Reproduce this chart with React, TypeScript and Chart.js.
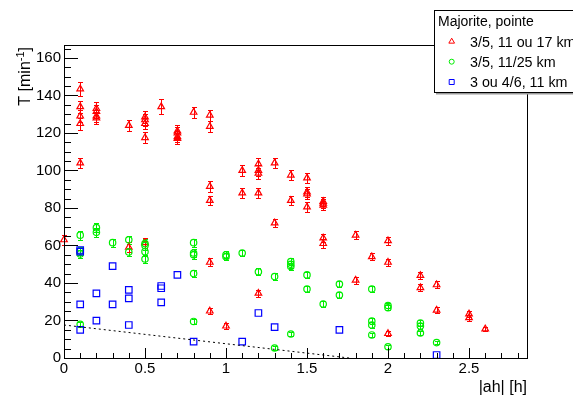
import React, { useEffect, useRef } from "react";
import { Chart, registerables } from "chart.js";

Chart.register(...registerables);

// ---- data ----
const redX = [0, 0.1, 0.1, 0.1, 0.1, 0.1, 0.2, 0.2, 0.2, 0.2, 0.4, 0.4, 0.5, 0.5, 0.5, 0.5, 0.5, 0.6, 0.7, 0.7, 0.7, 0.7, 0.8, 0.9, 0.9, 0.9, 0.9, 0.9, 0.9, 1.0, 1.1, 1.1, 1.2, 1.2, 1.2, 1.2, 1.2, 1.3, 1.3, 1.4, 1.4, 1.5, 1.5, 1.5, 1.5, 1.6, 1.6, 1.6, 1.6, 1.6, 1.8, 1.8, 1.9, 2.0, 2.0, 2.0, 2.2, 2.2, 2.3, 2.3, 2.5, 2.5, 2.6];
const redY = [63, 143.5, 134, 129, 125, 104, 133, 131.5, 129, 128, 124, 59, 128.5, 127, 125, 117.5, 61.5, 134, 121, 120, 118, 117, 131, 129.5, 123.5, 91.5, 84, 51, 25, 17, 100, 88, 103.5, 100, 98.5, 88, 34.5, 104, 72, 97.5, 84, 96, 88.5, 87.5, 80.5, 83.5, 82.5, 81.5, 64, 61, 65.5, 41.5, 54, 62.5, 51, 13, 44, 37.5, 39, 25.5, 23.5, 21.5, 15.5];
const redErr = [2.8, 3.6, 3.3, 3.2, 3.2, 2.8, 3.3, 3.3, 3.2, 3.2, 3, 2.6, 3.2, 3.2, 3.1, 3, 2.6, 4, 3, 3, 3, 3, 3, 3, 3, 2.8, 2.6, 2.2, 1.6, 1.4, 2.8, 2.6, 3, 3, 3, 2.6, 1.8, 2.8, 2.2, 2.8, 2.6, 2.8, 2.6, 2.6, 2.6, 2.4, 2.4, 2.4, 2.2, 2.2, 2, 1.8, 2, 2, 2, 1.2, 2, 1.8, 1.8, 1.6, 1.6, 1.6, 1.2];

const greenX = [0.1, 0.1, 0.1, 0.1, 0.2, 0.2, 0.3, 0.4, 0.4, 0.5, 0.5, 0.5, 0.5, 0.8, 0.8, 0.8, 0.8, 0.8, 1.0, 1.0, 1.1, 1.2, 1.3, 1.3, 1.4, 1.4, 1.4, 1.4, 1.5, 1.5, 1.6, 1.7, 1.7, 1.9, 1.9, 1.9, 1.9, 2.0, 2.0, 2.0, 2.2, 2.2, 2.2, 2.3];
const greenY = [65.5, 57, 55.5, 18, 69.5, 67, 61.5, 63, 56.5, 61, 60, 56.7, 52.8, 61.5, 56, 55, 45, 19.5, 55, 54, 56, 46, 43.4, 5.3, 51.4, 50, 48.8, 12.8, 44.3, 36.8, 28.8, 39.4, 33.6, 36.8, 19.7, 17.6, 12.3, 28, 26.8, 6, 18.7, 17, 13.3, 8.2];
const greenErr = [2.4, 2.2, 2.2, 1.4, 2.4, 2.4, 2.2, 2.2, 2.2, 2.2, 2.2, 2.2, 2.2, 2.2, 2.2, 2.2, 1.8, 1.4, 1.8, 1.8, 1.8, 1.8, 1.8, 1, 1.8, 1.8, 1.8, 1, 1.8, 1.8, 1.4, 1.8, 1.8, 1.8, 1.4, 1.4, 1, 1.4, 1.4, 1, 1.4, 1.4, 1, 1];

const blueX = [0.1, 0.1, 0.1, 0.1, 0.2, 0.2, 0.3, 0.3, 0.4, 0.4, 0.4, 0.6, 0.6, 0.6, 0.7, 0.8, 1.1, 1.2, 1.3, 1.7, 2.3];
const blueY = [57.6, 56.7, 28.6, 15, 34.5, 19.9, 49, 28.6, 36.3, 31.8, 17.6, 38.4, 37.2, 29.7, 44.3, 8.7, 8.7, 24, 16.5, 15, 1.6];

const fitX = [0, 1.76];
const fitY = [17.6, 0];

const xTickValues = [0, 0.5, 1, 1.5, 2, 2.5];
const xTickLabels = ["0", "0.5", "1", "1.5", "2", "2.5"];
const yTickValues = [0, 20, 40, 60, 80, 100, 120, 140, 160];
const yTickLabels = ["0", "20", "40", "60", "80", "100", "120", "140", "160"];

const legendTitle = "Majorite, pointe";
const seriesLabels = ["3/5, 11 ou 17 km", "3/5, 11/25 km", "3 ou 4/6, 11 km"];
const xTitle = "|ah| [h]";
const yTitleMain = "T [min";
const yTitleSup = "-1";
const yTitleEnd = "]";

const RED = "#ff0000";
const GREEN = "#00ee00";
const BLUE = "#0000ff";
const FONT = "'Liberation Sans', Arial, Helvetica, sans-serif";

function toPts(xs: number[], ys: number[]) {
  return xs.map((x, i) => ({ x, y: ys[i] }));
}

function drawMarker(ctx: CanvasRenderingContext2D, kind: string, x: number, y: number, r: number, color: string) {
  ctx.save();
  ctx.strokeStyle = color;
  ctx.lineWidth = 1;
  ctx.beginPath();
  if (kind === "triangle") {
    for (let k = 0; k < 3; k++) {
      const a = (k * 2 * Math.PI) / 3;
      const px = x + Math.sin(a) * r;
      const py = y - Math.cos(a) * r;
      if (k === 0) ctx.moveTo(px, py);
      else ctx.lineTo(px, py);
    }
    ctx.closePath();
  } else if (kind === "circle") {
    ctx.arc(x, y, r, 0, Math.PI * 2);
  } else {
    ctx.rect(x - r, y - r, 2 * r, 2 * r);
  }
  ctx.stroke();
  ctx.restore();
}

const errorBarPlugin = {
  id: "errorBars",
  beforeDatasetsDraw(chart: any) {
    const ctx = chart.ctx as CanvasRenderingContext2D;
    const xs = chart.scales.x;
    const ys = chart.scales.y;
    chart.data.datasets.forEach((ds: any) => {
      if (!ds.errs) return;
      ctx.save();
      ctx.strokeStyle = ds.borderColor;
      ctx.lineWidth = 1;
      ds.data.forEach((p: any, i: number) => {
        const e = ds.errs[i];
        if (!e) return;
        const px = Math.round(xs.getPixelForValue(p.x)) + 0.5;
        const top = Math.round(ys.getPixelForValue(p.y + e)) + 0.5;
        const bot = Math.round(ys.getPixelForValue(p.y - e)) + 0.5;
        ctx.beginPath();
        ctx.moveTo(px, top);
        ctx.lineTo(px, bot);
        ctx.moveTo(px - 2.5, top);
        ctx.lineTo(px + 2.5, top);
        ctx.moveTo(px - 2.5, bot);
        ctx.lineTo(px + 2.5, bot);
        ctx.stroke();
      });
      ctx.restore();
    });
  },
};

const framePlugin = {
  id: "frameAndLegend",
  afterDraw(chart: any) {
    const ctx = chart.ctx as CanvasRenderingContext2D;
    const xs = chart.scales.x;
    const ys = chart.scales.y;
    const a = chart.chartArea;
    ctx.save();
    ctx.strokeStyle = "#000";
    ctx.lineWidth = 1;
    // frame
    ctx.strokeRect(a.left + 0.5, a.top + 0.5, a.right - a.left, a.bottom - a.top);
    // y ticks
    ctx.beginPath();
    for (let v = 0; v <= ys.max + 1e-6; v += 5) {
      const py = Math.round(ys.getPixelForValue(v)) + 0.5;
      const major = Math.abs(v % 20) < 1e-6;
      ctx.moveTo(a.left, py);
      ctx.lineTo(a.left + (major ? 14 : 7), py);
    }
    // x ticks
    for (let i = 0; i * 0.1 <= xs.max + 1e-6; i++) {
      const v = i * 0.1;
      const px = Math.round(xs.getPixelForValue(v)) + 0.5;
      const major = i % 5 === 0;
      ctx.moveTo(px, a.bottom);
      ctx.lineTo(px, a.bottom - (major ? 10 : 5));
    }
    ctx.stroke();

    // axis titles
    ctx.fillStyle = "#000";
    ctx.font = `16px ${FONT}`;
    ctx.textAlign = "right";
    ctx.textBaseline = "alphabetic";
    ctx.fillText(xTitle, a.right, 392);

    ctx.save();
    ctx.translate(29.5, a.top + 2);
    ctx.rotate(-Math.PI / 2);
    ctx.textAlign = "left";
    ctx.font = `16px ${FONT}`;
    const w1 = ctx.measureText(yTitleMain).width;
    const w3 = ctx.measureText(yTitleEnd).width;
    ctx.font = `11px ${FONT}`;
    const w2 = ctx.measureText(yTitleSup).width;
    const total = w1 + w2 + w3;
    let cx = -total;
    ctx.font = `16px ${FONT}`;
    ctx.fillText(yTitleMain, cx, 0);
    cx += w1;
    ctx.font = `11px ${FONT}`;
    ctx.fillText(yTitleSup, cx, -6);
    cx += w2;
    ctx.font = `16px ${FONT}`;
    ctx.fillText(yTitleEnd, cx, 0);
    ctx.restore();

    // legend
    const lx = 434;
    const ly = 10;
    ctx.fillStyle = "#999";
    ctx.fillRect(lx + 2, ly + 83, 200, 1.5);
    ctx.fillStyle = "#fff";
    ctx.fillRect(lx, ly, 200, 82);
    ctx.strokeStyle = "#000";
    ctx.strokeRect(lx + 0.5, ly + 0.5, 200, 82);
    ctx.fillStyle = "#000";
    ctx.font = `14px ${FONT}`;
    ctx.textAlign = "left";
    ctx.textBaseline = "alphabetic";
    ctx.fillText(legendTitle, 438, 25.5);
    const kinds = ["triangle", "circle", "rect"];
    const cols = [RED, GREEN, BLUE];
    const base = [46.5, 66.7, 87];
    ctx.font = `14.3px ${FONT}`;
    seriesLabels.forEach((lab, i) => {
      drawMarker(ctx, kinds[i], 451.7, base[i] - 5, kinds[i] === "triangle" ? 3.3 : 2.5, cols[i]);
      ctx.fillStyle = "#000";
      ctx.fillText(lab, 470, base[i]);
    });
    ctx.restore();
  },
};

export default function App() {
  const ref = useRef<HTMLCanvasElement>(null);
  useEffect(() => {
    const canvas = ref.current;
    if (!canvas) return;
    const chart = new Chart(canvas, {
      type: "scatter",
      data: {
        datasets: [
          {
            label: seriesLabels[2],
            data: toPts(blueX, blueY),
            pointStyle: "rect",
            pointRadius: 4.6,
            borderColor: BLUE,
            backgroundColor: "rgba(0,0,0,0)",
            pointBorderWidth: 1.2,
            clip: false,
            order: 1,
          } as any,
          {
            label: seriesLabels[1],
            data: toPts(greenX, greenY),
            pointStyle: "circle",
            pointRadius: 3.2,
            borderColor: GREEN,
            backgroundColor: "rgba(0,0,0,0)",
            pointBorderWidth: 1.2,
            errs: greenErr,
            clip: false,
            order: 2,
          } as any,
          {
            label: seriesLabels[0],
            data: toPts(redX, redY),
            pointStyle: "triangle",
            pointRadius: 3.8,
            borderColor: RED,
            backgroundColor: "rgba(0,0,0,0)",
            pointBorderWidth: 1.2,
            errs: redErr,
            clip: false,
            order: 3,
          } as any,
          {
            type: "line",
            label: "fit",
            data: toPts(fitX, fitY),
            showLine: true,
            pointRadius: 0,
            borderColor: "#000",
            borderWidth: 1,
            borderDash: [2, 3],
            fill: false,
            order: 0,
          } as any,
        ],
      },
      options: {
        responsive: false,
        animation: false,
        devicePixelRatio: 1,
        layout: { padding: { left: 0, top: 45, right: 46, bottom: 0 } },
        plugins: { legend: { display: false }, tooltip: { enabled: false } },
        scales: {
          x: {
            type: "linear",
            min: 0,
            max: 2.858,
            grid: { display: false, drawTicks: false },
            border: { display: false },
            afterFit: (s: any) => {
              s.height = 44;
            },
            afterBuildTicks: (s: any) => {
              s.ticks = xTickValues.map((v) => ({ value: v }));
            },
            ticks: {
              padding: 2,
              color: "#000",
              font: { family: FONT, size: 15 },
              maxRotation: 0,
              autoSkip: false,
              callback: (v: any) => {
                const i = xTickValues.indexOf(Number(v));
                return i >= 0 ? xTickLabels[i] : "";
              },
            },
          },
          y: {
            type: "linear",
            min: 0,
            max: 166.9,
            grid: { display: false, drawTicks: false },
            border: { display: false },
            afterFit: (s: any) => {
              s.width = 64;
            },
            afterBuildTicks: (s: any) => {
              s.ticks = yTickValues.map((v) => ({ value: v }));
            },
            ticks: {
              padding: 3,
              color: "#000",
              font: { family: FONT, size: 15 },
              autoSkip: false,
              callback: (v: any) => {
                const i = yTickValues.indexOf(Number(v));
                return i >= 0 ? yTickLabels[i] : "";
              },
            },
          },
        },
      },
      plugins: [errorBarPlugin, framePlugin],
    } as any);
    return () => chart.destroy();
  }, []);

  return (
    <div style={{ position: "absolute", left: 0, top: 0, width: 573, height: 402, background: "#fff", overflow: "hidden" }}>
      <canvas ref={ref} width={573} height={402} style={{ display: "block", width: 573, height: 402 }} />
    </div>
  );
}
